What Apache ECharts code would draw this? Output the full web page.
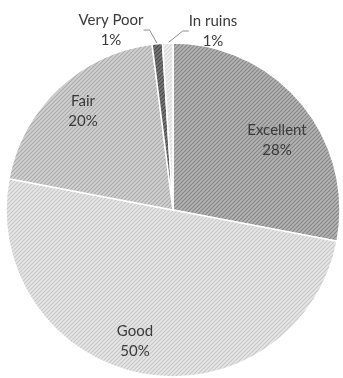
<!DOCTYPE html>
<html><head><meta charset="utf-8">
<script src="https://cdn.jsdelivr.net/npm/echarts@6/dist/echarts.min.js"></script>
<style>html,body{margin:0;padding:0;background:#fff}#c{width:343px;height:378px}</style>
</head><body><div id="c"></div>
<script>
const categories = ['Excellent', 'Good', 'Fair', 'Very Poor', 'In ruins'];
const percents = [28, 50, 20, 1, 1];

// styles (kept separate from data)
const fills = [
  ['#b5b5b5', '#858585'],
  ['#e6e6e6', '#c9c9c9'],
  ['#d2d2d2', '#ababab'],
  ['#7a7a7a', '#4a4a4a'],
  ['#f0f0f0', '#d6d6d6']
];
const labelPos = [[277, 140], [135, 341], [83, 111], [111, 30], [213, 31]];

function pattern(bg, fg) {
  const s = 4;
  const cv = document.createElement('canvas');
  cv.width = s; cv.height = s;
  const g = cv.getContext('2d');
  g.fillStyle = bg; g.fillRect(0, 0, s, s);
  g.strokeStyle = fg; g.lineWidth = 1.2;
  g.beginPath();
  g.moveTo(-1, s + 1); g.lineTo(s + 1, -1);
  g.moveTo(-1, 1); g.lineTo(1, -1);
  g.moveTo(s - 1, s + 1); g.lineTo(s + 1, s - 1);
  g.stroke();
  return { image: cv, repeat: 'repeat' };
}

const chart = echarts.init(document.getElementById('c'), null, { renderer: 'canvas' });
const data = categories.map((n, i) => ({
  name: n,
  value: percents[i],
  itemStyle: { color: pattern(fills[i][0], fills[i][1]) },
  label: i >= 3 ? { position: 'outside' } : { position: 'inside' },
  labelLine: { show: i >= 3 }
}));

chart.setOption({
  animation: false,
  series: [{
    type: 'pie',
    center: [173, 210],
    radius: 167,
    startAngle: 90,
    clockwise: true,
    avoidLabelOverlap: false,
    data: data,
    itemStyle: { borderColor: '#ffffff', borderWidth: 1.5 },
    label: {
      show: true,
      formatter: p => p.name + '\n' + p.value + '%',
      fontFamily: 'Lato',
      fontSize: 15,
      lineHeight: 20,
      color: '#3a3a3a',
      align: 'center'
    },
    labelLine: {
      show: true,
      length: 10,
      length2: 6,
      lineStyle: { color: '#8c8c8c', width: 1 }
    },
    labelLayout: function (p) {
      const pos = labelPos[p.dataIndex];
      return { x: pos[0], y: pos[1], align: 'center', verticalAlign: 'middle' };
    }
  }]
});
</script></body></html>
